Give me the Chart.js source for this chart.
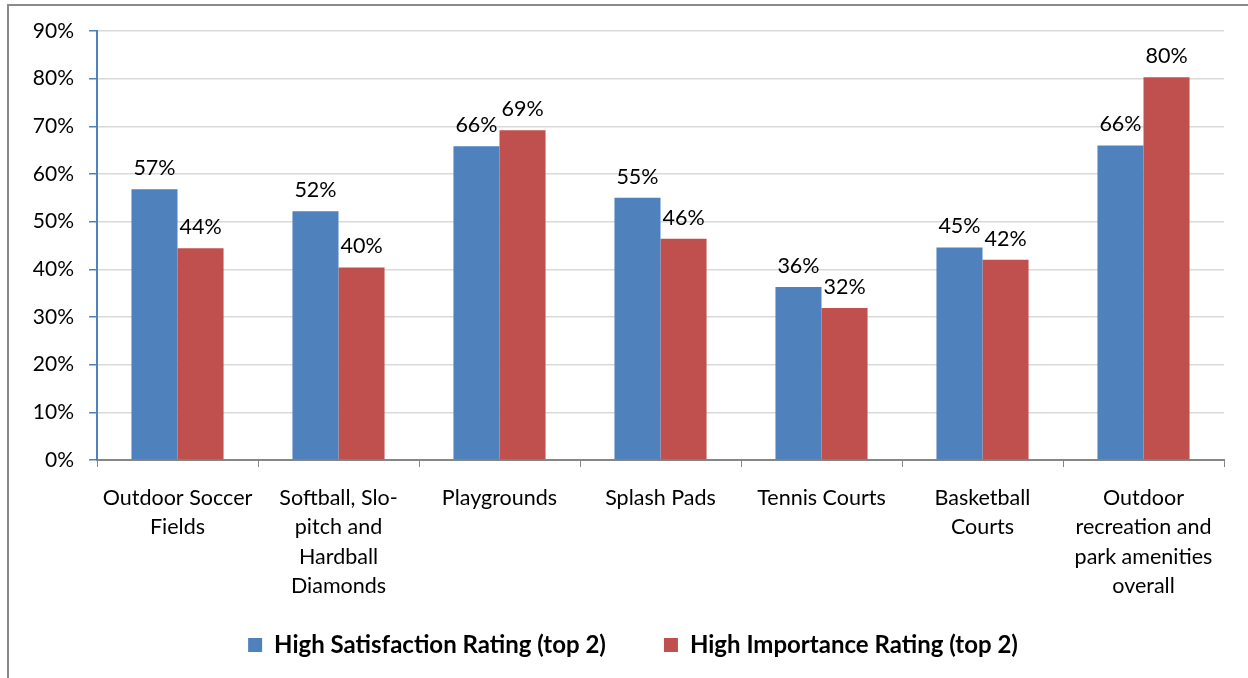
<!DOCTYPE html>
<html>
<head>
<meta charset="utf-8">
<script src="https://cdn.jsdelivr.net/npm/chart.js@4.4.1/dist/chart.umd.min.js"></script>
<style>
  html, body { margin: 0; padding: 0; background: #fff; overflow: hidden; }
  #wrap { position: relative; width: 1248px; height: 678px; }
  #frame { position: absolute; left: 7px; top: 4px; width: 1300px; height: 800px; border: 2px solid #8a8a8a; box-sizing: border-box; }
  #c { position: absolute; left: 0; top: 0; }
</style>
</head>
<body>
<div id="wrap">
  <div id="frame"></div>
  <canvas id="c" width="1248" height="678"></canvas>
</div>
<script>
const categories = [
  ["Outdoor Soccer", "Fields"],
  ["Softball, Slo-", "pitch and", "Hardball", "Diamonds"],
  "Playgrounds",
  "Splash Pads",
  "Tennis Courts",
  ["Basketball", "Courts"],
  ["Outdoor", "recreation and", "park amenities", "overall"]
];
const seriesNames = ["High Satisfaction Rating (top 2)", "High Importance Rating (top 2)"];
const satisfaction = [56.8, 52.2, 65.8, 55.0, 36.3, 44.6, 66.0];
const importance = [44.4, 40.4, 69.2, 46.4, 31.9, 42.0, 80.3];
const yTicks = [0, 10, 20, 30, 40, 50, 60, 70, 80, 90];

const FONT = "Lato, 'Liberation Sans', sans-serif";

const valueLabels = {
  id: 'valueLabels',
  afterDatasetsDraw(chart) {
    const ctx = chart.ctx;
    ctx.save();
    ctx.font = "21.5px " + FONT;
    ctx.fillStyle = "#000";
    ctx.textAlign = "center";
    ctx.textBaseline = "alphabetic";
    chart.data.datasets.forEach((ds, di) => {
      const meta = chart.getDatasetMeta(di);
      meta.data.forEach((el, i) => {
        ctx.fillText(Math.round(ds.data[i]) + "%", el.x, el.y - 14);
      });
    });
    ctx.restore();
  }
};

const legendPlace = {
  id: 'legendPlace',
  afterLayout(chart) {
    const lg = chart.legend;
    if (!lg) return;
    const h = lg.height;
    lg.top = 575; lg.bottom = 575 + h;
    lg.left += 6; lg.right += 6;
  }
};

new Chart(document.getElementById('c'), {
  type: 'bar',
  data: {
    labels: categories,
    datasets: [
      { label: seriesNames[0], data: satisfaction, backgroundColor: '#4F81BD', categoryPercentage: 0.572, barPercentage: 1.0 },
      { label: seriesNames[1], data: importance, backgroundColor: '#C0504D', categoryPercentage: 0.572, barPercentage: 1.0 }
    ]
  },
  options: {
    responsive: false,
    animation: false,
    layout: { padding: { left: 30, right: 24, top: 31, bottom: -14 } },
    plugins: {
      tooltip: { enabled: false },
      legend: {
        position: 'bottom',
        labels: {
          boxWidth: 14, boxHeight: 14, padding: 58,
          color: '#000',
          font: { family: FONT, size: 24, weight: 'bold' }
        }
      }
    },
    scales: {
      x: {
        grid: { offset: true, drawOnChartArea: false, color: '#868686', tickLength: 7, lineWidth: 1 },
        border: { color: '#868686', width: 2 },
        ticks: { color: '#000', padding: 17, maxRotation: 0, autoSkip: false, font: { family: FONT, size: 21.5, lineHeight: 1.35 } },
        afterFit(scale) { scale.height = 140; }
      },
      y: {
        min: 0, max: 90,
        afterBuildTicks(scale) { scale.ticks = yTicks.map(v => ({ value: v })); },
        grid: { color: '#D9D9D9', tickColor: '#4F81BD', tickLength: 8, lineWidth: 1.5 },
        border: { color: '#4F81BD', width: 2 },
        ticks: { color: '#000', padding: 15, font: { family: FONT, size: 21 }, callback: v => v + '%' },
        afterFit(scale) { scale.width = 67; }
      }
    }
  },
  plugins: [valueLabels, legendPlace]
});
</script>
</body>
</html>
